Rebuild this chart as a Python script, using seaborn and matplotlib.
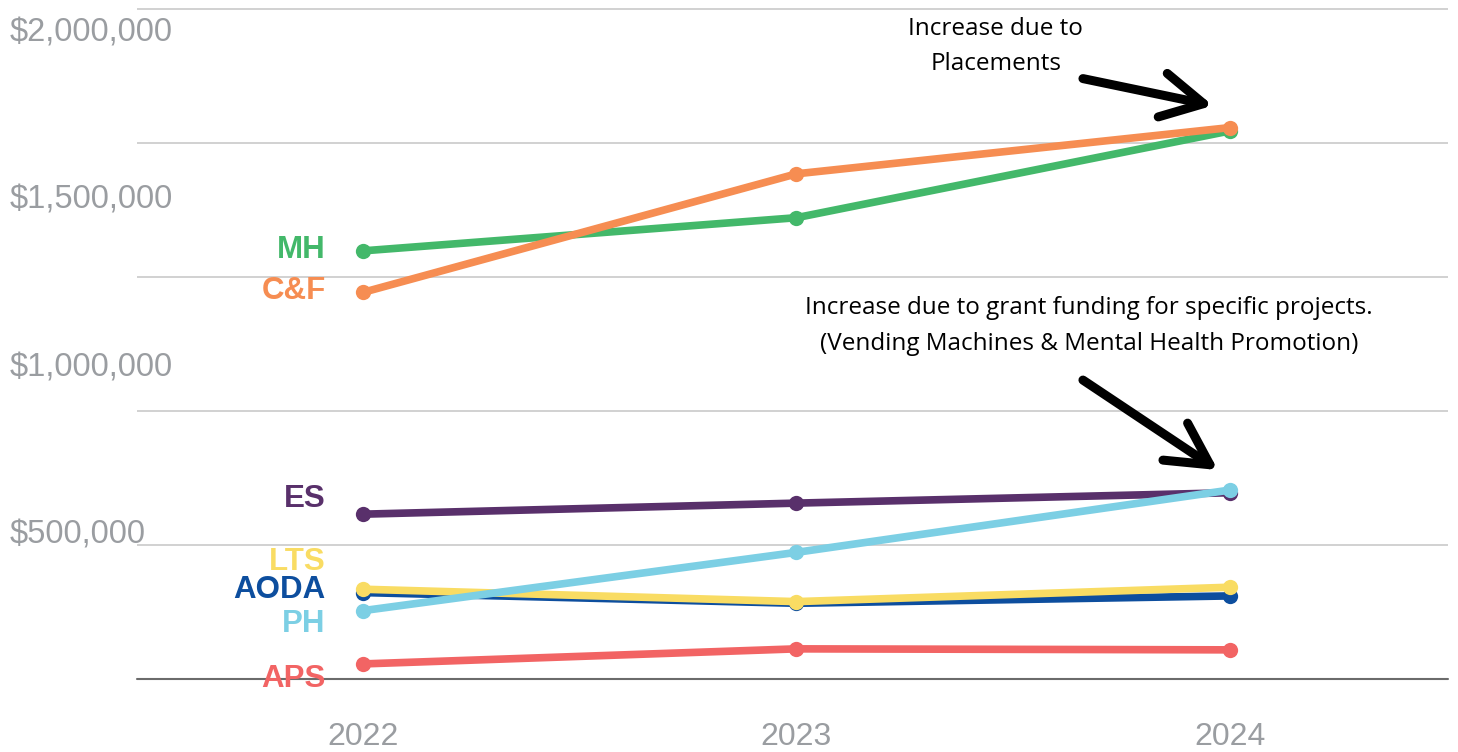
import numpy as np
import pandas as pd
import seaborn as sns
import matplotlib.pyplot as plt
from matplotlib import transforms

# data (annual funding, $)
years = [2022, 2023, 2024]
programs = ['MH', 'C&F', 'ES', 'AODA', 'LTS', 'PH', 'APS']
mh = [1278000, 1377000, 1636000]
cf = [1154000, 1508000, 1646000]
es = [492000, 525000, 556000]
aoda = [258000, 226000, 248000]
lts = [268000, 231000, 274000]
ph = [204000, 378000, 564000]
aps = [45000, 90000, 87000]

ytick_vals = [500000, 1000000, 1500000, 2000000]
ytick_text = ['$500,000', '$1,000,000', '$1,500,000', '$2,000,000']

note1 = 'Increase due to\nPlacements'
note2 = 'Increase due to grant funding for specific projects.\n(Vending Machines & Mental Health Promotion)'

colors = {'MH': '#43b86a', 'C&F': '#f68d52', 'ES': '#59306b', 'AODA': '#0d4e9e',
          'LTS': '#f9dc63', 'PH': '#7ccfe4', 'APS': '#f26464'}
# label nudges (pixels) relative to the 2022 point
label_dy = {'MH': 1, 'C&F': 1, 'ES': 15, 'AODA': 3, 'LTS': 27, 'PH': -13, 'APS': -15}

series = dict(zip(programs, [mh, cf, es, aoda, lts, ph, aps]))
rows = []
for p in programs:
    for y, v in zip(years, series[p]):
        rows.append([p, y, v])
df = pd.DataFrame(rows, columns=['program', 'year', 'value'])

sns.set_style('white')
plt.rcParams['font.family'] = ['Liberation Sans', 'DejaVu Sans']

W, H = 1458, 752
fig = plt.figure(figsize=(W / 100, H / 100), dpi=100)
ax = fig.add_axes([137 / W, 1 - 679 / H, (1448 - 137) / W, (679 - 5) / H])

sns.lineplot(data=df, x='year', y='value', hue='program', hue_order=programs,
             palette=colors, marker='o', markersize=11, markeredgewidth=0,
             linewidth=5.5, legend=False, sort=False, ax=ax)

ax.set_xlim(2021.479, 2024.503)
ax.set_ylim(0, 2011940)
ax.set_yticks(np.arange(0, 2000001, 400000))
ax.set_yticklabels([])
ax.yaxis.grid(True, color='#c9c9c9', lw=1.2)
ax.axhline(0, color='#6b6b6b', lw=1.5, clip_on=False)
for s in ax.spines.values():
    s.set_visible(False)
ax.set_xticks(years)
ax.set_xticklabels([str(y) for y in years])
ax.tick_params(axis='both', length=0)
ax.tick_params(axis='x', labelsize=23, labelcolor='#9a9da1', pad=31)
ax.set_xlabel('')
ax.set_ylabel('')

for v, s in zip(ytick_vals, ytick_text):
    ax.annotate(s, xy=(0, v), xycoords=ax.get_yaxis_transform(),
                xytext=(-127, -24), textcoords='offset pixels',
                ha='left', va='center', fontsize=23.5, color='#9a9da1',
                annotation_clip=False)

for p in programs:
    ax.annotate(p, xy=(years[0], series[p][0]), xytext=(-37, label_dy[p]),
                textcoords='offset pixels', ha='right', va='center',
                fontsize=22.5, fontweight='bold', color=colors[p])

hand = ['Open Sans', 'DejaVu Sans']
ax.annotate(note1, xy=(years[2], cf[2]), xytext=(-234, 81),
            textcoords='offset pixels', ha='center', va='center', color='black',
            fontsize=17.5, family=hand, linespacing=1.63, annotation_clip=False)
ax.annotate(note2, xy=(years[2], ph[2]), xytext=(-141, 164),
            textcoords='offset pixels', ha='center', va='center', color='black',
            fontsize=17.5, family=hand, linespacing=1.63)

arrow = dict(arrowstyle='->,head_length=3,head_width=1.6', lw=6.5, color='black',
             mutation_scale=10, shrinkA=0, shrinkB=0, capstyle='round', joinstyle='round')
tip1 = transforms.offset_copy(ax.transData, fig=fig, x=-17, y=22, units='dots')
ax.annotate('', xy=(years[2], cf[2]), xycoords=tip1, xytext=(-130, 27),
            textcoords='offset pixels', arrowprops=arrow)
tip2 = transforms.offset_copy(ax.transData, fig=fig, x=-12, y=20, units='dots')
ax.annotate('', xy=(years[2], ph[2]), xycoords=tip2, xytext=(-135, 90),
            textcoords='offset pixels', arrowprops=arrow)

fig.savefig('out.png', dpi=100, facecolor='white')
